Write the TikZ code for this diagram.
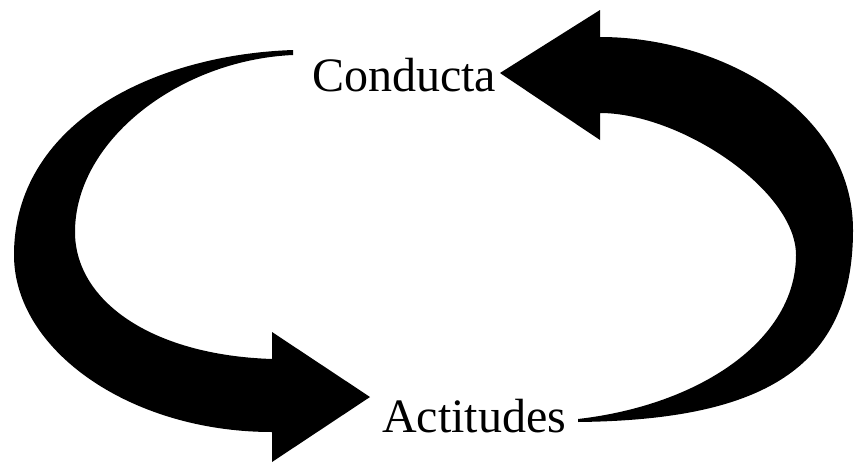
\documentclass[tikz,border=0pt]{standalone}
\usepackage{fontspec}
\setmainfont{Liberation Serif}
\begin{document}
\begin{tikzpicture}[x=1pt,y=-1pt,
  lbl/.style={inner sep=0pt, anchor=base west, font=\fontsize{48}{58}\selectfont},
  band/.style={fill=black, draw=none}]
\useasboundingbox (0,0) rectangle (854,463);
\node[lbl] (conducta) at (312,91) {Conducta};
\node[lbl] (actitudes) at (382,432) {Actitudes};
% left arrow: Conducta -> Actitudes
\fill[band] (293,50) .. controls (150,55) and (14,125) .. (14,255)
  .. controls (14,350) and (130,432) .. (272,432)
  -- (272,462) -- (370,397) -- (272,332) -- (272,359)
  .. controls (150,355) and (75,300) .. (75,232)
  .. controls (75,140) and (180,60) .. (293,55) -- cycle;
% right arrow: Actitudes -> Conducta
\fill[band] (578,422) .. controls (760,420) and (853,370) .. (853,230)
  .. controls (853,110) and (720,37) .. (600,37)
  -- (600,10) -- (500,73) -- (600,140) -- (600,113)
  .. controls (680,113) and (796,190) .. (796,255)
  .. controls (796,340) and (700,405) .. (578,419) -- cycle;
\end{tikzpicture}
\end{document}
